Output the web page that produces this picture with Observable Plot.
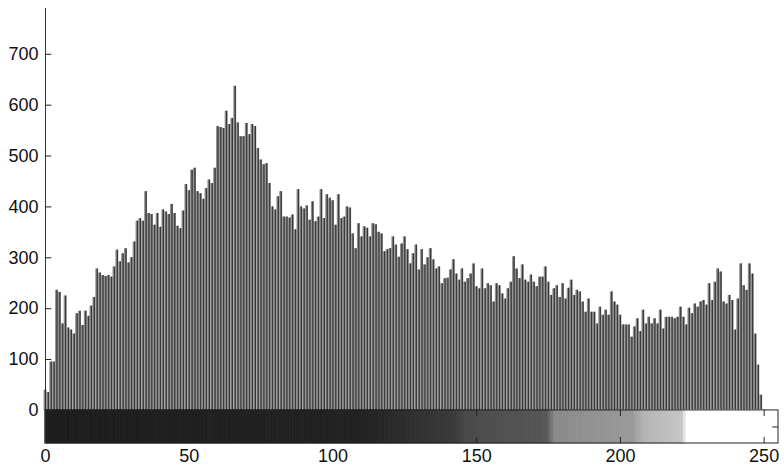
<!DOCTYPE html>
<html><head><meta charset="utf-8">
<script src="https://cdn.jsdelivr.net/npm/d3@7"></script>
<script src="https://cdn.jsdelivr.net/npm/@observablehq/plot@0.6"></script>
<style>
html,body{margin:0;padding:0;background:#fff}
#chart svg{display:block}
</style>
</head><body><div id="chart"></div>
<script>
// gray levels 0..255
const grayLevels = d3.range(256);
// pixel counts per gray level
const counts = [
 40, 35, 95, 95,236,232,170,225,162,158,   // 0-9
150,190,195,167,195,185,205,222,278,270,   // 10-19
265,263,265,262,282,315,292,308,318,290,   // 20-29
300,331,372,377,372,430,387,385,364,387,   // 30-39
360,394,390,385,405,387,362,357,392,444,   // 40-49
432,472,476,430,426,415,436,453,446,476,   // 50-59
558,556,554,588,562,574,637,565,538,538,   // 60-69
564,542,562,558,515,492,483,485,446,400,   // 70-79
394,420,430,380,380,378,384,355,434,400,   // 80-89
396,402,374,410,371,380,434,377,424,417,   // 90-99
412,364,424,377,380,400,398,347,318,367,   // 100-109
341,361,358,341,367,365,350,347,312,316,   // 110-119
318,341,325,301,327,341,316,288,308,325,   // 120-129
276,316,286,300,318,296,278,282,249,259,   // 130-139
260,276,296,268,256,278,252,259,268,288,   // 140-149
243,239,278,239,249,245,213,249,245,229,   // 150-159
219,239,252,302,278,259,286,256,252,266,   // 160-169
252,243,262,262,282,252,226,239,245,222,   // 170-179
249,219,240,256,226,236,233,213,193,219,   // 180-189
193,193,170,203,187,197,187,233,213,207,   // 190-199
187,168,168,168,144,164,180,155,197,170,   // 200-209
183,170,180,170,197,160,183,183,183,180,   // 210-219
183,203,183,168,201,190,209,203,213,216,   // 220-229
207,249,216,252,278,272,213,209,226,216,   // 230-239
158,219,288,245,236,288,268,150, 89, 30,   // 240-249
  0,  0,  0,  0,  0,  0                    // 250-255
];
const yTicks = [0,100,200,300,400,500,600,700];
const xTicks = [0,50,100,150,200,250];
// printed tone of the gray-level colour bar (as it appears in the reference)
const toneLevels = [0, 110, 142, 146, 174, 177, 204, 208, 221, 223, 255];
const toneGrays  = ["#1d1d1d","#222222","#3a3a3a","#4a4a4a","#575757","#8a8a8a","#9a9a9a","#b4b4b4","#c6c6c6","#ffffff","#ffffff"];

const tone = d3.scaleLinear().domain(toneLevels).range(toneGrays);
const barCells = grayLevels.slice(0, 255);

const chart = Plot.plot({
  width: 784,
  height: 471,
  marginLeft: 45,
  marginRight: 6,
  marginTop: 8,
  marginBottom: 28,
  style: {fontFamily: "'Liberation Sans', Arial, sans-serif", color: "#111", background: "#fff"},
  x: {domain: [0, 255]},
  y: {domain: [-65, 790]},
  color: {type: "identity"},
  marks: [
    // histogram stems
    Plot.rectY(grayLevels, {x1: i => i - 0.5, x2: i => i + 0.5, y: i => counts[i], fill: "#909090"}),
    Plot.ruleX(grayLevels.filter(i => counts[i] > 0), {x: i => i, y1: 0, y2: i => counts[i], stroke: "#383838", strokeWidth: 1.3}),
    // colour bar
    Plot.rect(barCells, {x1: i => i, x2: i => i + 1, y1: -65, y2: 0, fill: i => tone(i), stroke: i => tone(i), strokeWidth: 0.8}),
    Plot.rect([0], {x1: 0, x2: 255, y1: -65, y2: 0, fill: "none", stroke: "#222", strokeWidth: 1}),
    Plot.ruleX(xTicks, {x: d => d, y1: -65, y2: -53, stroke: "#222"}),
    Plot.ruleX(xTicks, {x: d => d, y1: 0, y2: -12, stroke: "#222"}),
    Plot.ruleY([-32.5], {x1: 253, x2: 255, stroke: "#222"}),
    // y axis line and inward ticks
    Plot.ruleX([0], {y1: -65, y2: 790, stroke: "#333", strokeWidth: 1}),
    Plot.ruleY(yTicks, {y: d => d, x1: 0, x2: 2.2, stroke: "#222"}),
    Plot.axisY({ticks: yTicks, tickSize: 0, tickPadding: 7, fontSize: 18, tickFormat: d => String(d)}),
    Plot.axisX({ticks: xTicks, tickSize: 0, tickPadding: 6, fontSize: 18, tickFormat: d => String(d)})
  ]
});
document.getElementById("chart").appendChild(chart);
</script>
</body></html>
